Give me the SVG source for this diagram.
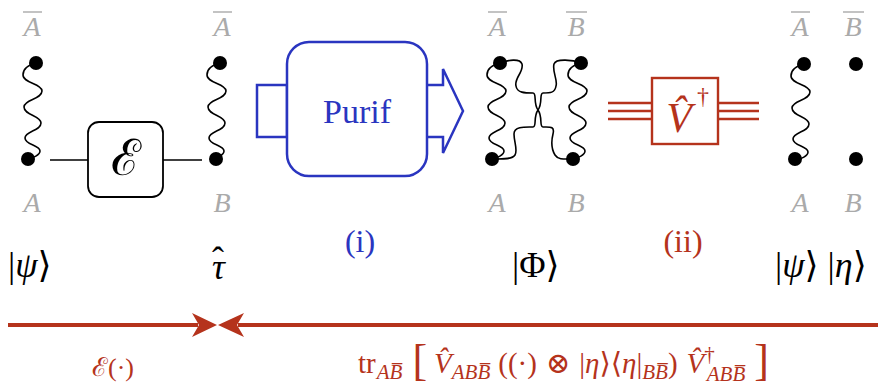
<svg xmlns="http://www.w3.org/2000/svg" xmlns:xlink="http://www.w3.org/1999/xlink" width="878" height="389" viewBox="0 0 878 389">
<style>
.lbl{font-family:"Liberation Serif","DejaVu Serif",serif;font-style:italic;font-size:28px;fill:#aaaaaa;text-anchor:middle}
.ol{stroke:#aaaaaa;stroke-width:1.4}
.math{font-family:"Liberation Serif","DejaVu Serif",serif;font-size:36px;fill:#000}
.it{font-style:italic}
.dot{fill:#000}
.wave{fill:none;stroke:#000;stroke-width:1.6}
.red{fill:#b5331c}
.blue{fill:#2a35c0}
</style>
<defs>
<path id="wv" d="M0,0 C-8,2 -13,6 -13,12 C-13,20 6,21 6,28 C6,36 -12,37 -12,44 C-12,52 5,53 5,60 C5,68 -11,68 -11,75 C-11,82 4,82 4,88 C4,92 -3,95 -8,96"/>
</defs>

<g id="connectors">
<line x1="50" y1="160" x2="88" y2="160" stroke="#000" stroke-width="1.6"/>
<line x1="163" y1="160" x2="202" y2="160" stroke="#000" stroke-width="1.6"/>
<line x1="8" y1="325" x2="198" y2="325" stroke="#b5331c" stroke-width="4"/>
<line x1="238" y1="325" x2="878" y2="325" stroke="#b5331c" stroke-width="4"/>
<path class="red" d="M217,325 L192,313 L199,325 L192,337 Z"/>
<path class="red" d="M218,325 L244,313 L237,325 L244,337 Z"/>
</g>

<g id="state-psi">
<text class="lbl" x="32" y="36">A</text><line class="ol" x1="23" y1="12" x2="42" y2="12"/>
<text class="lbl" x="32" y="212">A</text>
<use href="#wv" class="wave" transform="translate(36,63)"/>
<circle class="dot" cx="36" cy="63" r="7"/>
<circle class="dot" cx="28" cy="159" r="7"/>
<text class="math" x="8" y="277">|<tspan class="it">ψ</tspan>⟩</text>
</g>

<g id="channel-E">
<rect x="88" y="122" width="75" height="75" rx="11" fill="#fff" stroke="#000" stroke-width="1.8"/>
<text x="125.5" y="175" font-family="DejaVu Serif,serif" font-size="50" text-anchor="middle">ℰ</text>
</g>

<g id="state-tau">
<text class="lbl" x="222" y="36">A</text><line class="ol" x1="213" y1="12" x2="232" y2="12"/>
<text class="lbl" x="222" y="212">B</text>
<use href="#wv" class="wave" transform="translate(220,63)"/>
<circle class="dot" cx="220" cy="63" r="7"/>
<circle class="dot" cx="216" cy="159" r="7"/>
<text class="math" x="212" y="279"><tspan class="it">τ</tspan><tspan dx="-13" dy="-7">ˆ</tspan></text>
</g>

<g id="purif">
<rect x="257" y="85" width="30" height="52" fill="#fff" stroke="#2a35c0" stroke-width="2.5"/>
<path d="M427,85 L443,85 L443,69 L463,111 L443,153 L443,137 L427,137" fill="#fff" stroke="#2a35c0" stroke-width="2.5" stroke-linejoin="miter"/>
<rect x="287" y="42" width="140" height="134" rx="22" fill="#fff" stroke="#2a35c0" stroke-width="2.5"/>
<text x="357" y="123" font-family="Liberation Serif,serif" font-size="34" text-anchor="middle" class="blue">Purif</text>
<text x="360" y="252" font-family="Liberation Serif,serif" font-size="32" text-anchor="middle" class="blue">(i)</text>
</g>

<g id="state-phi">
<text class="lbl" x="497" y="36">A</text><line class="ol" x1="488" y1="12" x2="507" y2="12"/>
<text class="lbl" x="576" y="36">B</text><line class="ol" x1="566" y1="12" x2="587" y2="12"/>
<text class="lbl" x="497" y="212">A</text>
<text class="lbl" x="576" y="212">B</text>
<use href="#wv" class="wave" transform="translate(500,63)"/>
<use href="#wv" class="wave" transform="translate(581,63)"/>
<path class="wave" d="M500,63 C508,60 520,58 522,64 C524,72 514,78 516,86 C517,93 525,93 533,93 C537,93 533,103 538,110 C543,117 539,127 543,127 C550,127 555,126 553,134 C551,142 552,150 555,155 C558,160 565,159 573,159"/>
<path class="wave" d="M581,63 C573,60 556,58 554,64 C552,72 558,80 556,86 C555,93 550,93 543,93 C539,93 543,103 538,110 C533,117 537,127 533,127 C526,127 514,126 514,134 C514,142 518,150 515,155 C512,160 500,159 492,159"/>
<circle class="dot" cx="500" cy="63" r="7"/>
<circle class="dot" cx="581" cy="63" r="7"/>
<circle class="dot" cx="492" cy="159" r="7"/>
<circle class="dot" cx="573" cy="159" r="7"/>
<text class="math" x="512" y="277">|Φ⟩</text>
</g>

<g id="unitary-V">
<g stroke="#b5331c" stroke-width="2.4">
<line x1="608" y1="103" x2="652" y2="103"/><line x1="608" y1="111" x2="652" y2="111"/><line x1="608" y1="119" x2="652" y2="119"/>
<line x1="718" y1="103" x2="759" y2="103"/><line x1="718" y1="111" x2="759" y2="111"/><line x1="718" y1="119" x2="759" y2="119"/>
</g>
<rect x="652" y="78" width="66" height="66" fill="#fff" stroke="#b5331c" stroke-width="2.4"/>
<text x="679" y="132" font-family="Liberation Serif,serif" font-style="italic" font-size="42" text-anchor="middle" class="red">V̂</text>
<text x="697" y="104" font-family="Liberation Serif,serif" font-size="24" class="red">†</text>
<text x="683" y="252" font-family="Liberation Serif,serif" font-size="32" text-anchor="middle" class="red">(ii)</text>
</g>

<g id="state-psi-eta">
<text class="lbl" x="800" y="36">A</text><line class="ol" x1="791" y1="12" x2="810" y2="12"/>
<text class="lbl" x="853" y="36">B</text><line class="ol" x1="843" y1="12" x2="864" y2="12"/>
<text class="lbl" x="800" y="212">A</text>
<text class="lbl" x="853" y="212">B</text>
<use href="#wv" class="wave" transform="translate(804,64)"/>
<circle class="dot" cx="804" cy="64" r="7"/>
<circle class="dot" cx="856" cy="64" r="7"/>
<circle class="dot" cx="795" cy="159" r="7"/>
<circle class="dot" cx="856" cy="159" r="7"/>
<text class="math" x="775" y="277">|<tspan class="it">ψ</tspan>⟩ |<tspan class="it">η</tspan>⟩</text>
</g>

<g id="maps">
<text x="92" y="376" font-family="Liberation Serif,DejaVu Serif,serif" font-size="26" class="red"><tspan font-family="DejaVu Serif,serif">ℰ</tspan>(·)</text>
<text x="358" y="373" font-family="Liberation Serif,DejaVu Serif,serif" font-size="29" class="red">tr<tspan font-size="21" font-style="italic" dy="6" dx="1">AB̅</tspan><tspan dy="-4" font-size="44" dx="10">[</tspan><tspan font-style="italic" dx="7" dy="-2">V̂</tspan><tspan font-size="21" font-style="italic" dy="6">ABB̅</tspan><tspan dy="-6" dx="8">((·)</tspan><tspan dx="9">⊗</tspan><tspan dx="9">|<tspan font-style="italic">η</tspan>⟩⟨<tspan font-style="italic">η</tspan>|</tspan><tspan font-size="21" font-style="italic" dy="6">BB̅</tspan><tspan dy="-6">)</tspan><tspan font-style="italic" dx="9">V̂</tspan><tspan font-size="21" dy="-12">†</tspan><tspan font-size="21" font-style="italic" dy="20" dx="-8">ABB̅</tspan><tspan dy="-6" font-size="44" dx="9">]</tspan></text>
</g>
</svg>
